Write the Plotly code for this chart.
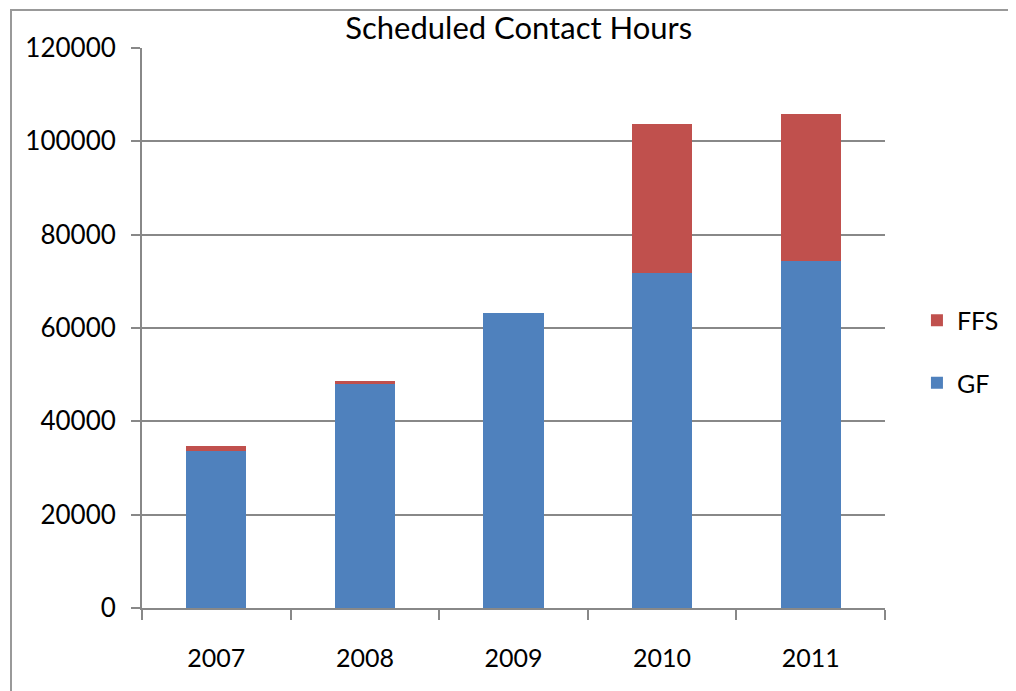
import plotly.graph_objects as go

years = ["2007", "2008", "2009", "2010", "2011"]
gf_values = [33700, 48100, 63300, 71700, 74400]
ffs_values = [1000, 500, 0, 32000, 31500]
y_ticks = [0, 20000, 40000, 60000, 80000, 100000, 120000]

FONT = "Lato, Open Sans, sans-serif"
GRID = "#888888"

# page has an 8px body margin, so figure is 8px smaller and shifted
W, H = 1008, 683
L, R, T, B = 134, 131, 40, 83
PW = W - L - R
PH = H - T - B

fig = go.Figure()
fig.add_trace(go.Bar(x=years, y=gf_values, name="GF", marker_color="#4F81BD",
                     marker_line_width=0, legendgroup="gf", legendrank=2))
fig.add_trace(go.Bar(x=years, y=ffs_values, name="FFS", marker_color="#C0504D",
                     marker_line_width=0, legendgroup="ffs", legendrank=1))

fig.update_layout(
    width=W, height=H,
    margin=dict(l=L, r=R, t=T, b=B, autoexpand=False),
    paper_bgcolor="white", plot_bgcolor="white",
    barmode="stack", bargap=0.596,
    font=dict(family=FONT, color="black"),
    title=dict(text="Scheduled Contact Hours", x=0.507, xref="paper",
               y=1 - 20 / H, yanchor="middle", xanchor="center",
               font=dict(size=31, family=FONT, color="black")),
    legend=dict(x=1.043, xanchor="left", y=0.458, yanchor="middle",
                traceorder="grouped", tracegroupgap=27,
                font=dict(size=25, family=FONT, color="black"),
                bgcolor="rgba(0,0,0,0)"),
    xaxis=dict(type="category", tickson="boundaries", ticks="outside",
               ticklen=10, tickwidth=2, tickcolor=GRID,
               showline=True, linecolor=GRID, linewidth=2,
               showgrid=False, automargin=False,
               tickfont=dict(size=25, family=FONT, color="black"),
               ticklabelstandoff=27),
    yaxis=dict(range=[0, 120000], tickvals=y_ticks,
               ticktext=[str(v) for v in y_ticks],
               ticks="outside", ticklen=9, tickwidth=2, tickcolor=GRID,
               showline=True, linecolor=GRID, linewidth=2,
               showgrid=True, gridcolor=GRID, gridwidth=2,
               zeroline=False, automargin=False,
               tickfont=dict(size=26, family=FONT, color="black"),
               ticklabelstandoff=10),
    shapes=[dict(type="rect", xref="paper", yref="paper",
                 x0=(3 - L) / PW, x1=(W + 20 - L) / PW,
                 y0=-(B + 20) / PH, y1=(T - 2) / PH + 1,
                 line=dict(color="#999999", width=2), layer="below")],
)

fig.write_html("out.html")
